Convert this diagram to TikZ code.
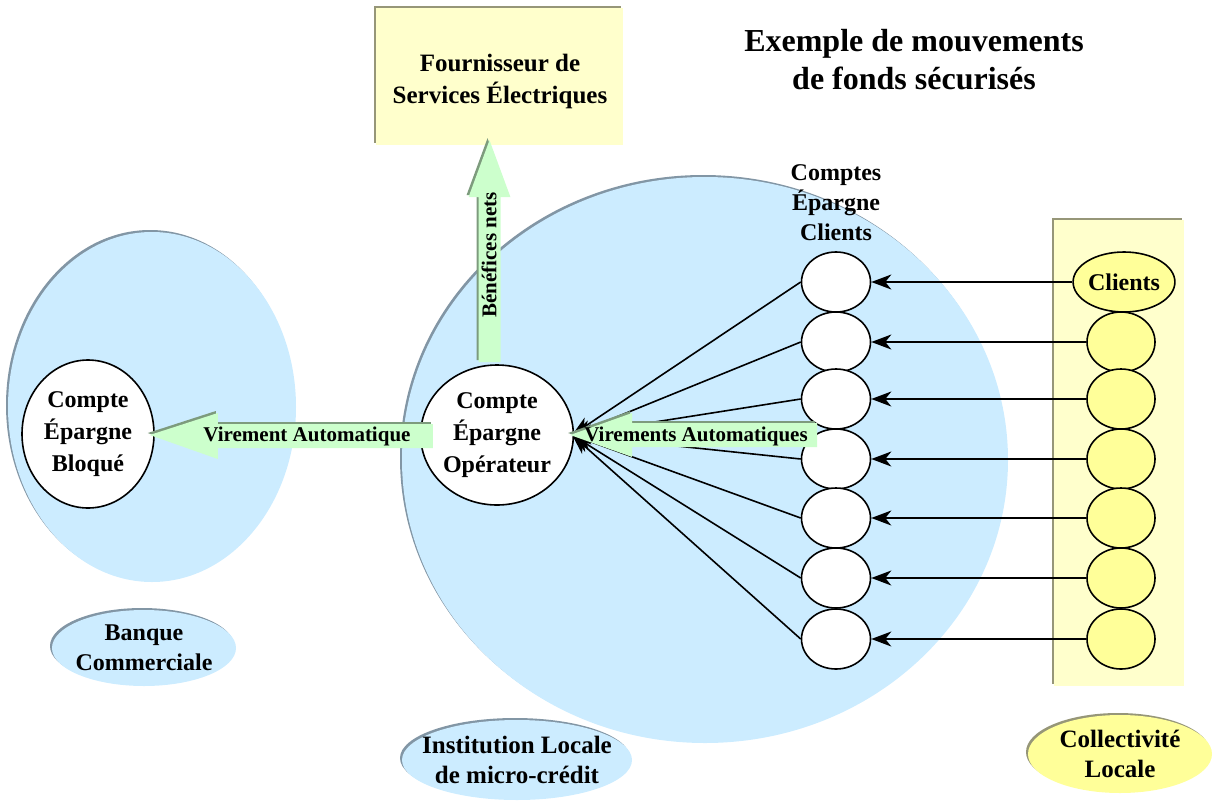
\documentclass[tikz,border=0pt]{standalone}
\usepackage{fontspec}
\setmainfont{Liberation Serif}
\usetikzlibrary{shapes.geometric,arrows.meta,shadows,calc}

\definecolor{zoneblue}{RGB}{204,236,255}
\definecolor{paleyellow}{RGB}{255,255,204}
\definecolor{clientyellow}{RGB}{255,255,153}
\definecolor{palegreen}{RGB}{204,255,204}
\definecolor{edgeblue}{RGB}{130,150,165}
\definecolor{edgeolive}{RGB}{150,150,120}
\definecolor{edgegreen}{RGB}{125,155,125}

\begin{document}
\begin{tikzpicture}[x=1pt,y=-1pt,
  edge/.style={general shadow={fill=#1, shadow xshift=-2pt, shadow yshift=2pt}},
  zone/.style={ellipse, fill=zoneblue, edge=edgeblue, inner sep=0pt},
  tag/.style={ellipse, inner sep=0pt},
  tagtext/.style={align=center, inner sep=0pt,
    font=\bfseries\fontsize{24}{30}\selectfont},
  account/.style={ellipse, draw=black, line width=1.6pt, fill=white,
    inner sep=0pt, align=center, font=\bfseries\fontsize{24}{32}\selectfont},
  client/.style={ellipse, draw=black, line width=1.6pt, fill=clientyellow,
    inner sep=0pt, minimum width=68pt, minimum height=60pt},
  conn/.style={line width=1.6pt,
    -{Stealth[length=20pt,width=15pt,inset=6pt]}},
  fat/.style={fill=palegreen, edge=edgegreen},
  flowtext/.style={font=\bfseries\fontsize{21}{24}\selectfont, inner sep=0pt},
  title/.style={align=center, font=\bfseries\fontsize{32}{38}\selectfont}
]
\useasboundingbox (0,0) rectangle (1213,801);

% background zones
\node[zone, minimum width=288pt, minimum height=350pt] (bank) at (152,407) {};
\node[zone, minimum width=606pt, minimum height=566pt] (mfi) at (705,460) {};
\node[rectangle, fill=paleyellow, edge=edgeolive, minimum width=130pt,
  minimum height=466pt, inner sep=0pt] (panel) at (1119,453) {};

% supplier box
\node[rectangle, fill=paleyellow, edge=edgeolive, minimum width=247pt,
  minimum height=137pt, inner sep=0pt] (supplier) at (499.5,76.5) {};
\node[align=center, font=\bfseries\fontsize{25}{32}\selectfont] (suppliername)
  at (500,81) {Fournisseur de\\Services Électriques};

% title
\node[title] (ttl) at (914,60) {Exemple de mouvements\\de fonds sécurisés};

% accounts
\node[account, minimum width=132pt, minimum height=148pt] (bloq) at (88,434)
  {Compte\\Épargne\\Bloqué};
\node[account, minimum width=140pt, minimum height=140pt] (op) at (497,435)
  {Compte\\Épargne\\Opérateur};

\node[align=center, font=\bfseries\fontsize{24}{30}\selectfont] (cecl) at (836,203)
  {Comptes\\Épargne\\Clients};

\foreach \i/\y in {1/282,2/342,3/399,4/459,5/518,6/578,7/639}{
  \node[account, minimum width=69pt, minimum height=60pt] (c\i) at (836,\y) {};
}
\node[client, minimum width=96pt, font=\bfseries\fontsize{24}{30}\selectfont]
  (y1) at (1124,282) {Clients};
\foreach \i/\y in {2/342,3/399,4/459,5/518,6/578,7/639}{
  \node[client] (y\i) at (1121,\y) {};
}

% deposits from clients into their savings accounts
\foreach \i in {1,...,7}{
  \draw[conn] (y\i.west) -- (c\i.east);
}
% automatic transfers to the operator account
\foreach \i in {1,...,7}{
  \draw[conn] (c\i.west) -- ($(op.east)+(-2,0)$);
}

% wide green flow arrows
\coordinate (vaTip) at ($(bloq.east)+(-5,1)$);
\fill[fat] (vaTip) -- ++(68,-22) -- ++(0,11) -- ++(215,0) -- ++(0,24)
  -- ++(-215,0) -- ++(0,11) -- cycle;
\node[flowtext] (va) at (307,436) {Virement Automatique};

\coordinate (vmTip) at ($(op.east)+(-4,0)$);
\fill[fat] (vmTip) -- ++(62,-22) -- ++(0,10) -- ++(185,0) -- ++(0,24)
  -- ++(-185,0) -- ++(0,10) -- cycle;
\node[flowtext] (vm) at (696,436) {Virements Automatiques};

\coordinate (bnTip) at ($(supplier.south)+(-10,-5)$);
\fill[fat] (bnTip) -- ++(-21,57) -- ++(10,0) -- ++(0,165) -- ++(22,0)
  -- ++(0,-165) -- ++(10,0) -- cycle;
\node[flowtext, rotate=90] (bn) at (489,255) {Bénéfices nets};

% institution labels
\node[tag, fill=zoneblue, edge=edgeblue, minimum width=184pt, minimum height=76pt]
  (bankname) at (144,648) {};
\node[tagtext] at (bankname) {Banque\\Commerciale};
\node[tag, fill=zoneblue, edge=edgeblue, minimum width=230pt, minimum height=80pt]
  (mfiname) at (517,760) {};
\node[tagtext, font=\bfseries\fontsize{25}{30}\selectfont] at (mfiname)
  {Institution Locale\\de micro-crédit};
\node[tag, fill=clientyellow, edge=edgeolive, minimum width=184pt, minimum height=78pt]
  (commname) at (1120,754) {};
\node[tagtext, font=\bfseries\fontsize{25}{30}\selectfont] at (commname)
  {Collectivité\\Locale};
\end{tikzpicture}
\end{document}
